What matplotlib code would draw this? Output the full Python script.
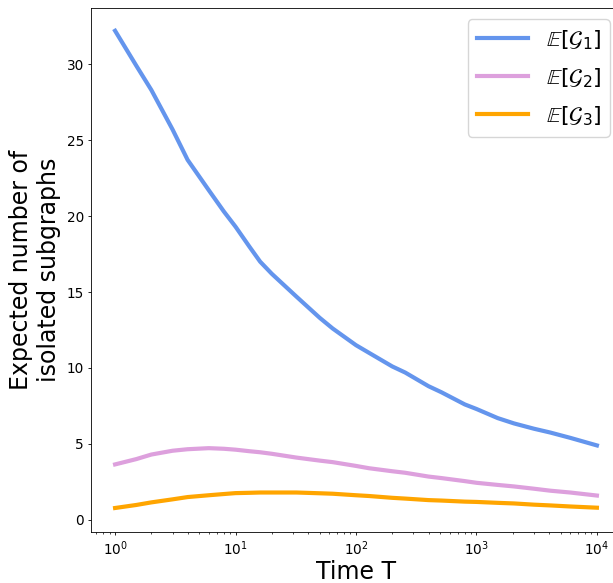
import matplotlib
matplotlib.use("Agg")
import matplotlib.pyplot as plt

T = [1, 1.5, 2, 3, 4, 6, 8, 10, 13, 16, 20, 32, 50, 64, 100, 128, 200, 256,
     400, 512, 800, 1000, 1500, 2048, 3000, 4096, 6000, 10000]
g1 = [32.2, 29.9, 28.3, 25.7, 23.7, 21.7, 20.3, 19.3, 18.0, 17.0, 16.2, 14.7, 13.3, 12.6,
      11.5, 11.0, 10.1, 9.7, 8.8, 8.4, 7.6, 7.3, 6.7, 6.35, 6.0, 5.75, 5.4, 4.9]
g2 = [3.65, 4.0, 4.3, 4.55, 4.65, 4.72, 4.68, 4.62, 4.52, 4.45, 4.35, 4.1, 3.9, 3.8,
      3.55, 3.4, 3.2, 3.1, 2.85, 2.75, 2.55, 2.44, 2.3, 2.2, 2.05, 1.92, 1.8, 1.6]
g3 = [0.78, 0.98, 1.15, 1.35, 1.5, 1.62, 1.7, 1.76, 1.78, 1.8, 1.8, 1.8, 1.75, 1.72,
      1.62, 1.57, 1.45, 1.4, 1.3, 1.27, 1.2, 1.18, 1.12, 1.08, 1.0, 0.95, 0.88, 0.8]

labels = [r'$\mathbb{E}[\mathcal{G}_1]$', r'$\mathbb{E}[\mathcal{G}_2]$', r'$\mathbb{E}[\mathcal{G}_3]$']
colors = ['cornflowerblue', 'plum', 'orange']

fig = plt.figure(figsize=(6.13, 5.83), dpi=100)
ax = fig.add_axes([91/613, 1-532/583, (621-91)/613, (532-8)/583])
for y, lab, c in zip([g1, g2, g3], labels, colors):
    ax.plot(T, y, color=c, lw=3, label=lab)
ax.set_xscale('log')
ax.set_ylim(-0.8, 33.7)
ax.set_xlabel('Time T', fontsize=17, labelpad=2)
ax.set_ylabel('Expected number of\nisolated subgraphs', fontsize=17, labelpad=4)
ax.tick_params(labelsize=9.8, length=2.5, width=0.6, pad=2.5)
ax.tick_params(which='minor', length=1.5, width=0.5)
for s in ax.spines.values():
    s.set_linewidth(0.6)
ax.legend(loc='upper right', fontsize=16, handlelength=2.3, labelspacing=0.65)
fig.savefig('out.png', dpi=100)
